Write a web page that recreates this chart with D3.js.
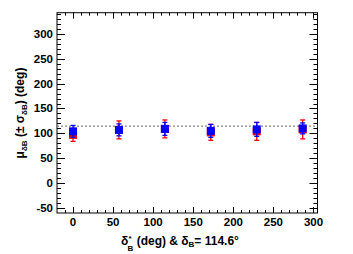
<!DOCTYPE html>
<html><head><meta charset="utf-8">
<script src="https://cdn.jsdelivr.net/npm/d3@7"></script>
<style>body{margin:0;background:#fff}svg{display:block}text{font-family:"Liberation Sans",Arial,sans-serif;font-weight:bold;fill:#000}</style>
</head><body><div id="c"></div>
<script>
const xValues = [0, 57.3, 114.6, 171.9, 229.2, 286.5];
const redMean = [97, 107, 109, 102, 104, 108];
const redErr = [13, 18, 18, 16, 18, 19];
const blueMean = [104, 107, 109, 105, 108, 110];
const blueErr = [12, 12, 13, 13, 14, 11];
const refValue = 114.6;
const xTicks = [0, 50, 100, 150, 200, 250, 300];
const yTicks = [-50, 0, 50, 100, 150, 200, 250, 300];

const W = 353, H = 254;
const L = 57, R = 317.5, T = 12.7, B = 213;
const svg = d3.select("#c").append("svg").attr("width", W).attr("height", H);
const x = d3.scaleLinear().domain([-20, 305]).range([L, R]);
const y = d3.scaleLinear().domain([-60, 342.5]).range([B, T]);

// frame
svg.append("rect").attr("x", L).attr("y", T).attr("width", R - L).attr("height", B - T)
  .attr("fill", "none").attr("stroke", "#000").attr("stroke-width", 1);

// ticks
const g = svg.append("g").attr("stroke", "#000").attr("stroke-width", 1);
const xMinor = d3.range(-10, 306, 10);
xMinor.forEach(v => {
  const major = v % 50 === 0;
  const len = major ? 6 : 3;
  const px = Math.round(x(v)) + 0.5;
  g.append("line").attr("x1", px).attr("x2", px).attr("y1", B).attr("y2", B - len);
  g.append("line").attr("x1", px).attr("x2", px).attr("y1", T).attr("y2", T + len);
});
const yMinor = d3.range(-50, 341, 10);
yMinor.forEach(v => {
  const major = v % 50 === 0;
  const len = major ? 8 : 4;
  const py = Math.round(y(v)) + 0.5;
  g.append("line").attr("x1", L).attr("x2", L + len).attr("y1", py).attr("y2", py);
  g.append("line").attr("x1", R).attr("x2", R - len).attr("y1", py).attr("y2", py);
});

// tick labels
svg.selectAll(".xl").data(xTicks).enter().append("text")
  .attr("x", d => x(d)).attr("y", 225.5).attr("text-anchor", "middle")
  .attr("font-size", 11.5).text(d => d);
svg.selectAll(".yl").data(yTicks).enter().append("text")
  .attr("x", 53).attr("y", d => y(d) + 4).attr("text-anchor", "end")
  .attr("font-size", 11.5).text(d => d);

// reference dashed line
svg.append("line").attr("x1", L).attr("x2", R).attr("y1", y(refValue)).attr("y2", y(refValue))
  .attr("stroke", "#888").attr("stroke-width", 1.2).attr("stroke-dasharray", "2,2");

function drawSeries(means, errs, color) {
  const s = svg.append("g");
  xValues.forEach((xv, i) => {
    const cx = x(xv), top = y(means[i] + errs[i]), bot = y(means[i] - errs[i]);
    s.append("line").attr("x1", cx).attr("x2", cx).attr("y1", top).attr("y2", bot)
      .attr("stroke", color).attr("stroke-width", 1.3);
    [top, bot].forEach(yy => s.append("line").attr("x1", cx - 2.5).attr("x2", cx + 2.5)
      .attr("y1", yy).attr("y2", yy).attr("stroke", color).attr("stroke-width", 1.3));
    s.append("rect").attr("x", cx - 4).attr("y", y(means[i]) - 4).attr("width", 8).attr("height", 8)
      .attr("fill", color);
  });
}
drawSeries(redMean, redErr, "#ff0000");
drawSeries(blueMean, blueErr, "#0000ff");

// x title
const xt = svg.append("text").attr("x", 180).attr("y", 245).attr("text-anchor", "middle").attr("font-size", 12);
xt.append("tspan").text("δ");
xt.append("tspan").attr("font-size", 8).attr("dy", -4).text("*");
xt.append("tspan").attr("font-size", 8).attr("dx", -4).attr("dy", 10).text("B");
xt.append("tspan").attr("dy", -6).text(" (deg) &  δ");
xt.append("tspan").attr("font-size", 8).attr("dy", 2).text("B");
xt.append("tspan").attr("dy", -2).text("= 114.6°");

// y title
const yt = svg.append("text").attr("transform", "translate(24,113) rotate(-90)")
  .attr("text-anchor", "middle").attr("font-size", 12);
yt.append("tspan").text("μ");
yt.append("tspan").attr("font-size", 8).attr("dy", 3).text("δB");
yt.append("tspan").attr("dy", -3).text("  (± σ");
yt.append("tspan").attr("font-size", 8).attr("dy", 3).text("δB");
yt.append("tspan").attr("dy", -3).text(") (deg)");
</script></body></html>
